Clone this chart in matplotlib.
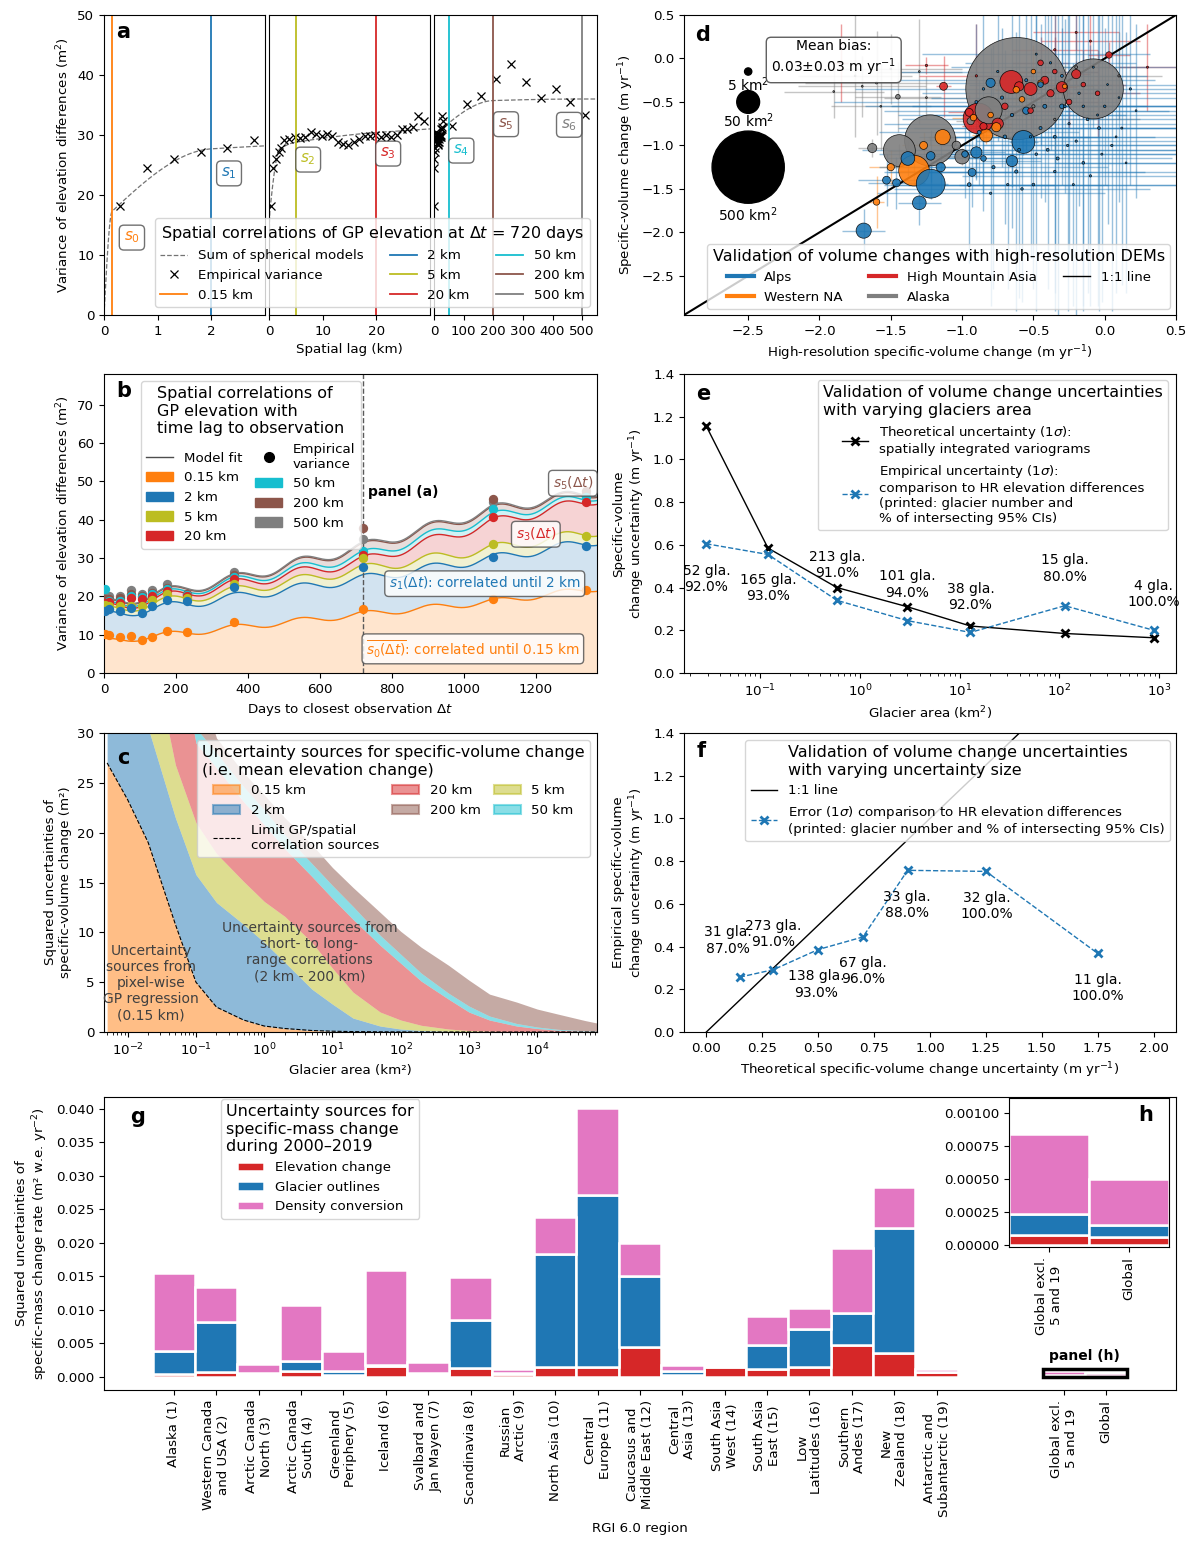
import numpy as np
import matplotlib
matplotlib.use('Agg')
import matplotlib.pyplot as plt
from matplotlib.patches import Patch, Rectangle
from matplotlib.lines import Line2D
from matplotlib.ticker import FormatStrFormatter

plt.rcParams['font.family'] = ['DejaVu Sans']
plt.rcParams['font.size'] = 9.6
plt.rcParams['legend.title_fontsize'] = 11.5
plt.rcParams['mathtext.fontset'] = 'dejavusans'

# ---------------- data ----------------
range_km = [0.15, 2, 5, 20, 50, 200, 500]
range_lbl = ['0.15 km', '2 km', '5 km', '20 km', '50 km', '200 km', '500 km']
range_col = ['tab:orange', 'tab:blue', 'tab:olive', 'tab:red', 'tab:cyan', 'tab:brown', 'tab:gray']

# panel a: partial sills of the fitted spherical models and empirical variogram
sill_a = [16.0, 10.5, 1.6, 1.0, 0.8, 5.5, 0.6]
lag_km = [0.3, 0.8, 1.3, 1.8, 2.3, 2.8, 3.8, 4.8, 5.8, 6.8, 7.8, 8.8, 9.8, 10.8, 11.8,
          12.8, 13.8, 14.8, 15.8, 16.8, 17.8, 18.8, 19.8, 20.8, 21.8, 22.8, 23.8, 24.8,
          25.8, 26.8, 27.8, 28.8, 60, 110, 160, 210, 260, 310, 360, 410, 460, 510]
emp_var_a = [18.1, 24.5, 26.0, 27.2, 27.8, 29.2, 29.4, 29.6, 29.5, 29.6, 30.5, 30.2, 29.9,
             30.2, 29.9, 28.8, 28.5, 28.3, 28.8, 29.4, 29.9, 29.9, 30.0, 29.7, 30.0, 29.7,
             30.0, 31.0, 31.0, 31.3, 33.1, 32.3, 31.5, 35.2, 36.5, 39.3, 41.8, 38.8, 36.2,
             37.6, 35.5, 33.4]

# panel b: model fit (band thickness trend at knots + periodic term) and empirical values
b_knots = [0, 360, 720, 1080, 1370]
b_trend = [[8.2, 11.8, 15.35, 18.6, 22.1],
           [6.75, 7.95, 9.25, 11.3, 12.35],
           [1.2, 1.6, 2.5, 2.6, 2.5],
           [0.6, 1.7, 2.1, 6.7, 8.4],
           [0.4, 0.7, 1.4, 1.5, 1.0],
           [0.6, 0.6, 2.1, 1.7, 0.8],
           [0.2, 0.2, 0.3, 0.3, 0.3]]
b_wave = [0.8, 0.35, 0.1, 0.1, 0.0, 0.0, 0.0]
b_period = 182.5
b_days = [3, 15, 44, 74, 105, 134, 174, 230, 362, 720, 1080, 1340]
b_emp = [[10.1, 10.0, 9.4, 9.6, 8.6, 9.5, 11.0, 10.6, 13.2, 16.8, 19.3, 21.7],
         [16.1, 16.7, 16.3, 16.9, 15.6, 17.6, 19.1, 18.7, 22.4, 27.6, 30.2, 33.1],
         [17.8, 17.6, 17.4, 17.6, 17.4, 19.0, 20.7, 19.6, 23.3, 30.1, 33.6, 35.7],
         [18.3, 18.4, 18.2, 19.6, 19.3, 20.0, 21.5, 20.2, 24.5, 30.9, 40.6, 44.7],
         [21.8, 18.9, 18.8, 20.2, 19.9, 20.5, 22.0, 20.4, 25.0, 31.8, 42.7, 45.8],
         [19.3, 19.3, 19.5, 20.7, 20.2, 20.8, 22.3, 20.6, 25.6, 37.9, 45.5, 47.5],
         [20.0, 20.2, 20.1, 21.6, 20.7, 21.6, 23.3, 20.7, 26.3, 34.9, 44.7, 46.8]]

# panel c: cumulative squared uncertainties vs glacier area
c_area = [0.005, 0.01, 0.02, 0.05, 0.1, 0.2, 0.5, 1, 2, 5, 10, 20, 50, 100, 200, 500,
          1e3, 2e3, 5e3, 1e4, 2e4, 5e4, 7.5e4]
c_top = [[27.0, 23.3, 19.0, 10.8, 5.0, 2.5, 1.2, 0.6, 0.35, 0.15, 0.08, 0.04, 0.02, 0.01,
          0.005, 0.002, 0.001, 0, 0, 0, 0, 0, 0],
         [45, 37, 30.5, 21.5, 15.8, 13.0, 10.8, 9.0, 7.0, 4.3, 2.8, 1.4, 0.6, 0.3, 0.15,
          0.07, 0.04, 0.02, 0.01, 0.005, 0.003, 0.001, 0.001],
         [60, 50, 40, 26.8, 21.0, 17.9, 15.1, 13.1, 11.6, 9.0, 6.4, 4.0, 2.0, 1.2, 0.67,
          0.3, 0.15, 0.08, 0.04, 0.02, 0.01, 0.005, 0.004],
         [100, 80, 60, 40, 29.0, 26.5, 23.1, 20.8, 18.4, 15.6, 13.4, 11.3, 8.7, 6.9, 5.1,
          3.3, 2.0, 1.2, 0.6, 0.35, 0.18, 0.07, 0.05],
         [102, 82, 62, 42, 30.5, 28.0, 24.6, 22.3, 19.8, 16.9, 14.7, 12.6, 9.7, 7.8, 5.9,
          3.9, 2.6, 1.6, 0.85, 0.5, 0.27, 0.12, 0.08],
         [110, 85, 68, 50, 36, 29.5, 26.0, 23.8, 21.5, 18.8, 16.5, 14.5, 12.0, 10.1, 8.5,
          6.7, 5.2, 3.8, 3.0, 2.3, 1.8, 1.15, 0.9]]
c_lbl = ['0.15 km', '2 km', '5 km', '20 km', '50 km', '200 km']

# panel d: validation points per region (x, y, area km2, xerr, yerr)
alps_x = [-1.22, -0.57, -1.69, -1.30, -1.38, -0.65, -0.90, -0.93, -1.15, -1.22, -1.53, -1.46,
          -0.80, -0.55, -0.98, -0.85, -0.45, -0.30,
          -0.62, -0.48, -0.35, -0.25, -0.15, -0.05, 0.05, 0.10, -0.70, -0.78, -0.42, -0.30,
          -0.18, -0.08, 0.02, -0.55, -0.88, -0.95, -0.50, -0.35, -0.20, 0.12, -0.65, -0.45,
          -0.10, -0.28, 0.00, -0.60, -0.72, -0.38,
          -0.85, -0.75, -0.40, -0.22, -0.12, 0.08, 0.18, -0.58, -0.33, -0.02, -0.68, -0.48,
          -0.15, 0.15, -0.90, -0.26, -0.04, -0.52, 0.22, -0.80]
alps_y = [-1.44, -0.96, -1.98, -1.66, -1.15, -1.18, -1.08, -1.31, -1.25, -1.12, -1.40, -1.43,
          -0.28, -0.60, -1.10, -1.15, -0.30, -0.55,
          -1.30, -1.10, -0.90, -0.75, -1.20, -0.65, -1.00, -0.45, -0.90, -1.25, -0.55, -0.20,
          -0.40, -0.10, -0.30, -0.25, -0.85, -1.45, -1.45, -1.30, -0.95, -0.80, -0.65, -0.80,
          -1.35, -0.55, -0.55, -1.05, -0.45, -0.05,
          -0.35, -0.15, -1.05, -1.45, -0.70, -0.90, -0.35, -1.50, -1.15, -1.10, -1.45, 0.05,
          -0.55, -1.20, -0.50, -1.00, -0.80, -0.90, -0.60, -1.55]
alps_area = [80, 50, 22, 18, 18, 12, 12, 6, 8, 7, 6, 6, 8, 5, 4, 3, 3, 2,
             1.0, 0.6, 0.8, 0.5, 0.7, 0.4, 0.5, 0.3, 1.2, 1.0, 1.5, 0.8, 0.6, 0.4, 0.3, 0.9,
             1.5, 1.3, 0.7, 0.6, 0.5, 0.4, 1.1, 0.9, 0.5, 0.7, 0.6, 0.8, 1.0, 0.5,
             0.6, 0.5, 0.8, 0.4, 0.7, 0.3, 0.5, 0.6, 0.9, 0.4, 0.5, 0.4, 0.6, 0.3, 0.8, 0.5,
             0.7, 0.6, 0.3, 0.5]
alps_xerr = [0.12, 0.10, 0.15, 0.15, 0.15, 0.2, 0.2, 0.3, 0.2, 0.2, 0.2, 0.2, 0.3, 1.0, 0.4,
             0.4, 0.5, 0.6,
             0.9, 1.1, 0.7, 1.3, 0.8, 1.2, 0.9, 1.0, 0.6, 0.8, 0.5, 0.6, 1.1, 1.0, 0.7, 0.9,
             0.7, 0.6, 1.0, 1.2, 0.7, 0.6, 0.8, 1.0, 0.9, 1.4, 1.5, 1.1, 0.5, 0.6,
             0.9, 0.7, 1.0, 0.8, 1.3, 0.6, 0.4, 0.9, 0.8, 1.1, 0.7, 0.8, 1.2, 0.5, 1.0, 0.9,
             1.3, 0.6, 0.5, 0.8]
alps_yerr = [0.18, 0.15, 0.25, 0.25, 0.2, 0.3, 0.3, 0.4, 0.3, 0.3, 0.3, 0.3, 0.4, 0.5, 0.5,
             0.6, 0.7, 0.9,
             1.6, 1.8, 2.0, 1.5, 1.7, 2.2, 1.9, 1.2, 1.0, 1.4, 1.1, 0.9, 1.3, 0.7, 1.6, 0.8,
             0.6, 0.9, 1.2, 1.4, 2.1, 1.8, 1.3, 0.8, 1.5, 1.0, 0.9, 1.7, 0.8, 1.0,
             1.2, 0.8, 1.6, 1.4, 2.0, 1.8, 1.1, 1.3, 1.9, 1.7, 1.2, 0.6, 2.3, 1.5, 0.9, 1.9,
             2.1, 1.4, 1.0, 1.3]

hma_x = [-0.885, -0.655, -0.52, -0.30, -0.20, -1.13, 0.03, -0.75, -0.42, -0.60, -0.45, -0.38,
         -0.25, -0.95, -0.70, -0.15, -0.05, -0.35, -0.85, -0.52, -1.85, -1.25, -0.35, -0.10, 0.30,
         -0.90, -0.20]
hma_y = [-0.69, -0.27, -0.35, -0.33, -0.18, -0.32, 0.04, -0.75, -0.25, -0.32, -0.05, -0.40,
         -0.50, -0.62, -0.55, -0.30, -0.40, -0.15, -0.78, -0.60, -0.05, -0.08, 0.10, 0.20, -0.10,
         -0.20, 0.30]
hma_area = [90, 50, 16, 12, 8, 6, 4, 12, 6, 8, 3, 5, 3, 6, 4, 2, 2, 2, 5, 3, 0.5, 0.5, 0.5,
            0.4, 0.4, 0.5, 0.4]
hma_xerr = [0.08, 0.08, 0.1, 0.1, 0.1, 0.05, 0.15, 0.1, 0.15, 0.1, 0.2, 0.15, 0.2, 0.15, 0.2,
            0.3, 0.3, 0.3, 0.15, 0.2, 0.05, 0.15, 0.3, 0.35, 0.2, 0.4, 0.3]
hma_yerr = [0.1, 0.1, 0.1, 0.1, 0.15, 0.35, 0.15, 0.1, 0.2, 0.1, 0.3, 0.2, 0.3, 0.2, 0.2,
            0.4, 0.5, 0.4, 0.15, 0.3, 0.45, 0.1, 0.4, 0.3, 0.5, 0.6, 0.2]

wna_x = [-1.337, -1.136, -0.832, -1.27, -1.50, -1.60, -0.76, -0.62, -0.58, -0.92, -0.80, -0.45, -0.28, -0.50]
wna_y = [-1.29, -0.904, -0.885, -1.00, -1.25, -1.65, -0.79, -0.36, -0.47, -0.68, -0.65, -0.28, -0.32, -0.15]
wna_area = [90, 22, 16, 6, 5, 4, 8, 4, 3, 4, 3, 3, 2, 2]
wna_xerr = [0.1, 0.1, 0.1, 0.15, 0.15, 0.05, 0.1, 0.15, 0.15, 0.15, 0.2, 0.2, 0.2, 0.2]
wna_yerr = [0.15, 0.1, 0.1, 0.15, 0.2, 0.3, 0.1, 0.2, 0.2, 0.15, 0.2, 0.25, 0.25, 0.3]

ak_x = [-0.616, -0.08, -1.224, -1.44, -0.814, -1.00, -1.63, -1.04, -0.94, -1.45, -1.60, -1.57,
        -1.75, -1.30, -1.90, -0.35, -0.20, 0.10, -0.50, -1.70, -1.25, -1.50]
ak_y = [-0.346, -0.35, -0.942, -1.06, -0.596, -1.13, -1.03, -1.00, -0.72, -0.44, -0.28, -0.55,
        -0.20, -0.15, -0.38, -0.70, -0.10, -0.20, -0.55, -0.32, -0.45, -0.12]
ak_area = [1000, 346, 250, 98, 70, 20, 8, 7, 5, 2, 0.5, 0.3, 0.3, 0.3, 0.3, 0.5, 0.8, 0.5, 1.0,
           0.3, 0.3, 0.3]
ak_xerr = [0.05, 0.05, 0.05, 0.08, 0.08, 0.1, 0.1, 0.1, 0.1, 0.3, 0.5, 0.35, 0.4, 0.3, 0.35,
           0.6, 0.5, 0.3, 0.4, 0.45, 0.3, 0.5]
ak_yerr = [0.05, 0.05, 0.05, 0.08, 0.08, 0.1, 0.1, 0.1, 0.1, 0.4, 0.6, 0.5, 0.7, 0.6, 0.3,
           0.5, 0.4, 0.5, 0.4, 0.35, 0.25, 0.4]

size_ref_area = [5, 50, 500]
size_ref_y = [-0.15, -0.5, -1.25]
size_lbl_y = [-0.30, -0.72, -1.80]

# panel e
e_area = [0.029, 0.12, 0.59, 3.0, 12.8, 113, 880]
e_theo = [1.155, 0.585, 0.40, 0.31, 0.22, 0.185, 0.165]
e_emp = [0.605, 0.555, 0.34, 0.245, 0.19, 0.315, 0.20]
e_ngla = [52, 165, 213, 101, 38, 15, 4]
e_pct = [92.0, 93.0, 91.0, 94.0, 92.0, 80.0, 100.0]
e_lab_y = [0.442, 0.398, 0.507, 0.414, 0.357, 0.489, 0.370]

# panel f
f_theo = [0.15, 0.30, 0.50, 0.70, 0.90, 1.25, 1.75]
f_emp = [0.257, 0.292, 0.386, 0.445, 0.757, 0.752, 0.368]
f_ngla = [31, 273, 138, 67, 33, 32, 11]
f_pct = [87.0, 91.0, 93.0, 96.0, 88.0, 100.0, 100.0]
f_lab_x = [0.096, 0.299, 0.49, 0.70, 0.897, 1.252, 1.752]
f_lab_y = [0.428, 0.459, 0.222, 0.284, 0.593, 0.59, 0.206]

# panel g / h
g_labels = ['Alaska (1)', 'Western Canada\nand USA (2)', 'Arctic Canada\nNorth (3)',
            'Arctic Canada\nSouth (4)', 'Greenland\nPeriphery (5)', 'Iceland (6)',
            'Svalbard and\nJan Mayen (7)', 'Scandinavia (8)', 'Russian\nArctic (9)',
            'North Asia (10)', 'Central\nEurope (11)', 'Caucasus and\nMiddle East (12)',
            'Central\nAsia (13)', 'South Asia\nWest (14)', 'South Asia\nEast (15)',
            'Low\nLatitudes (16)', 'Southern\nAndes (17)', 'New\nZealand (18)',
            'Antarctic and\nSubantarctic (19)', 'Global excl.\n5 and 19', 'Global']
g_elev = [0.0004, 0.0007, 0.0002, 0.0009, 0.0002, 0.0016, 0.0003, 0.0013, 0.0004, 0.0014,
          0.0015, 0.0045, 0.0002, 0.0015, 0.0012, 0.0015, 0.0047, 0.0036, 0.0007,
          0.000075, 0.000062]
g_outline = [0.0034, 0.0074, 0.0004, 0.0014, 0.0006, 0.0001, 0.0003, 0.0072, 0.0001, 0.0170,
             0.0257, 0.0105, 0.0006, 0.00003, 0.0035, 0.0056, 0.0048, 0.0186, 0.00005,
             0.000161, 0.000092]
g_density = [0.0117, 0.0053, 0.0013, 0.0084, 0.0031, 0.0143, 0.0016, 0.0064, 0.0006, 0.0054,
             0.0129, 0.0050, 0.0009, 0.00003, 0.0043, 0.0031, 0.0098, 0.0061, 0.0004,
             0.000604, 0.000348]


def spherical(h, r, c):
    h = np.asarray(h, dtype=float)
    return np.where(h < r, c * (1.5 * h / r - 0.5 * (h / r) ** 3), c)


# ---------------- figure ----------------
W, H = 1192, 1543
fig = plt.figure(figsize=(W / 100, H / 100), dpi=100)


def px_axes(l, t, r, b):
    return fig.add_axes([l / W, 1 - b / H, (r - l) / W, (b - t) / H])


def letter(ax, x, y, s):
    ax.text(x, y, s, transform=ax.transAxes, fontsize=15, fontweight='bold',
            ha='center', va='center', zorder=30)


box_kw = dict(boxstyle='round,pad=0.3', fc='white', ec='0.3', alpha=0.8)

# ---- a ----
ax_a = [px_axes(104, 15, 265, 315), px_axes(269, 15, 430, 315), px_axes(434, 15, 597, 315)]
a_xlims = [(0, 3), (0, 30), (0, 550)]
a_lines = [[0, 1], [2, 3], [4, 5, 6]]
a_xticks = [[0, 1, 2], [0, 10, 20], [0, 100, 200, 300, 400, 500]]
for i, ax in enumerate(ax_a):
    h = np.linspace(0, a_xlims[i][1], 1500)
    model = sum(spherical(h, r, c) for r, c in zip(range_km, sill_a))
    ax.plot(h, model, ls='--', color='0.45', lw=0.9)
    ax.plot(lag_km, emp_var_a, 'x', color='k', ms=6, mew=0.9)
    for j in a_lines[i]:
        ax.axvline(range_km[j], color=range_col[j], lw=1.3)
    ax.set_xlim(a_xlims[i])
    ax.set_ylim(0, 50)
    ax.set_xticks(a_xticks[i])
    if i > 0:
        ax.tick_params(left=False, labelleft=False)
ax_a[0].set_ylabel('Variance of elevation differences (m$^2$)')
ax_a[1].set_xlabel('Spatial lag (km)')
letter(ax_a[0], 0.118, 0.943, 'a')
s_pos = [(0, 0.52, 12.9), (0, 2.33, 23.6), (1, 7.3, 25.9), (1, 22.2, 26.9),
         (2, 92, 27.4), (2, 243, 31.8), (2, 456, 31.7)]
for k, (i, x, y) in enumerate(s_pos):
    ax_a[i].text(x, y, '$s_%d$' % k, color=range_col[k], fontsize=11, ha='center',
                 va='center', bbox=box_kw)
a_handles = [Line2D([], [], ls='--', color='0.45', lw=0.9),
             Line2D([], [], ls='none', marker='x', color='k', ms=6, mew=0.9)]
a_handles += [Line2D([], [], color=c, lw=1.3) for c in range_col]
fig.legend(a_handles, ['Sum of spherical models', 'Empirical variance'] + range_lbl, ncol=3,
           loc='lower right', bbox_to_anchor=(590 / W, 1 - 307 / H), borderaxespad=0,
           title=r'Spatial correlations of GP elevation at $\Delta t$ = 720 days')

# ---- b ----
ax_b = px_axes(104, 374, 597, 673)
t = np.linspace(0, 1370, 1000)
comps = [np.interp(t, b_knots, b_trend[j]) + b_wave[j] * np.cos(2 * np.pi * t / b_period)
         for j in range(7)]
cum = np.cumsum(comps, axis=0)
lower = np.zeros_like(t)
for j in range(7):
    ax_b.fill_between(t, lower, cum[j], color=range_col[j], alpha=0.2, lw=0)
    ax_b.plot(t, cum[j], color=range_col[j], lw=1)
    lower = cum[j]
for j in range(6, -1, -1):
    ax_b.scatter(b_days, b_emp[j], color=range_col[j], s=45, zorder=5, lw=0)
ax_b.axvline(720, ls='--', color='0.35', lw=1)
ax_b.text(832, 47.2, 'panel (a)', fontweight='bold', ha='center', va='center', fontsize=10)
ax_b.text(1303, 49.5, r'$s_5(\Delta t)$', color='tab:brown', fontsize=10, ha='center',
          va='center', bbox=box_kw, zorder=8)
ax_b.text(1200, 36.2, r'$s_3(\Delta t)$', color='tab:red', fontsize=10, ha='center',
          va='center', bbox=box_kw, zorder=8)
ax_b.text(1058, 23.3, r'$s_1(\Delta t)$: correlated until 2 km', color='tab:blue',
          fontsize=9.8, ha='center', va='center', bbox=box_kw, zorder=8)
ax_b.text(1025, 6.3, r'$\overline{s_0(\Delta t)}$: correlated until 0.15 km',
          color='tab:orange', fontsize=9.8, ha='center', va='center', bbox=box_kw, zorder=8)
ax_b.set_xlim(0, 1370)
ax_b.set_ylim(0, 78)
ax_b.set_xlabel(r'Days to closest observation $\Delta t$')
ax_b.set_ylabel('Variance of elevation differences (m$^2$)')
letter(ax_b, 0.0406, 0.943, 'b')
b_handles = [Line2D([], [], color='0.3', lw=1)] + [Patch(color=range_col[j]) for j in range(4)]
b_handles += [Line2D([], [], ls='none', marker='o', color='k', ms=7)]
b_handles += [Patch(color=range_col[j]) for j in range(4, 7)]
b_labels = ['Model fit'] + range_lbl[:4] + ['Empirical\nvariance'] + range_lbl[4:]
leg_b = ax_b.legend(b_handles, b_labels, ncol=2, loc='upper left', bbox_to_anchor=(0.075, 0.977),
                    borderaxespad=0, columnspacing=1.0,
                    title='Spatial correlations of\nGP elevation with\ntime lag to observation')
leg_b.get_title().set_multialignment('left')
leg_b.set_zorder(20)

# ---- c ----
ax_c = px_axes(104, 733, 597, 1032)
lower = np.zeros(len(c_area))
for j in range(6):
    ax_c.fill_between(c_area, lower, c_top[j], color=range_col[j], alpha=0.5, lw=0)
    lower = np.array(c_top[j])
ax_c.plot(c_area, c_top[0], ls='--', color='k', lw=0.8)
ax_c.set_xscale('log')
ax_c.set_xlim(0.0045, 75000)
ax_c.set_ylim(0, 30)
ax_c.text(0.022, 4.9, 'Uncertainty\nsources from\npixel-wise\nGP regression\n(0.15 km)',
          ha='center', va='center', color='0.25', fontsize=10)
ax_c.text(4.6, 8.0, 'Uncertainty sources from\nshort- to long-\nrange correlations\n(2 km - 200 km)',
          ha='center', va='center', color='0.25', fontsize=10)
ax_c.set_xlabel('Glacier area (km²)')
ax_c.set_ylabel('Squared uncertainties of\nspecific-volume change (m²)')
letter(ax_c, 0.0385, 0.916, 'c')
cp = [Patch(facecolor=range_col[j], edgecolor=range_col[j], alpha=0.5, lw=1.5) for j in range(6)]
c_handles = [cp[0], cp[1], Line2D([], [], ls='--', color='k', lw=0.8), cp[3], cp[5], cp[2], cp[4]]
c_labels = [c_lbl[0], c_lbl[1], 'Limit GP/spatial\ncorrelation sources', c_lbl[3], c_lbl[5],
            c_lbl[2], c_lbl[4]]
leg_c = ax_c.legend(c_handles, c_labels, ncol=3, loc='upper right', bbox_to_anchor=(0.986, 0.977),
                    borderaxespad=0, columnspacing=1.0,
                    title='Uncertainty sources for specific-volume change\n(i.e. mean elevation change)')
leg_c.get_title().set_multialignment('left')

# ---- d ----
ax_d = px_axes(684, 15, 1176, 315)
regions = [(ak_x, ak_y, ak_area, ak_xerr, ak_yerr, 'tab:gray'),
           (hma_x, hma_y, hma_area, hma_xerr, hma_yerr, 'tab:red'),
           (wna_x, wna_y, wna_area, wna_xerr, wna_yerr, 'tab:orange'),
           (alps_x, alps_y, alps_area, alps_xerr, alps_yerr, 'tab:blue')]
all_x, all_y, all_a, all_c = [], [], [], []
for x, y, a, xe, ye, col in regions:
    ax_d.errorbar(x, y, xerr=xe, yerr=ye, fmt='none', ecolor=col, elinewidth=1, alpha=0.45,
                  zorder=1)
    all_x += x
    all_y += y
    all_a += a
    all_c += [col] * len(x)
order = np.argsort(all_a)[::-1]
ax_d.plot([-2.95, 0.5], [-2.95, 0.5], color='k', lw=1.5, zorder=2)
ax_d.scatter(np.array(all_x)[order], np.array(all_y)[order], s=5.4 * np.array(all_a)[order],
             c=np.array(all_c)[order], edgecolors='k', linewidths=0.5, alpha=0.9, zorder=3)
ax_d.scatter([-2.5] * 3, size_ref_y, s=5.4 * np.array(size_ref_area), color='k', zorder=4)
for a, y in zip(size_ref_area, size_lbl_y):
    ax_d.text(-2.5, y, '%d km$^2$' % a, ha='center', va='center', fontsize=10)
ax_d.text(-1.9, 0.0, 'Mean bias:\n0.03±0.03 m yr$^{-1}$', ha='center', va='center',
          fontsize=10, bbox=dict(boxstyle='round,pad=0.35', fc='white', ec='0.3', alpha=0.9))
ax_d.set_xlim(-2.95, 0.5)
ax_d.set_ylim(-2.95, 0.5)
ax_d.set_xticks([-2.5, -2.0, -1.5, -1.0, -0.5, 0.0, 0.5])
ax_d.set_yticks([0.5, 0.0, -0.5, -1.0, -1.5, -2.0, -2.5])
ax_d.set_xlabel('High-resolution specific-volume change (m yr$^{-1}$)')
ax_d.set_ylabel('Specific-volume change (m yr$^{-1}$)')
letter(ax_d, 0.0386, 0.933, 'd')
d_handles = [Line2D([], [], color='tab:blue', lw=3), Line2D([], [], color='tab:orange', lw=3),
             Line2D([], [], color='tab:red', lw=3), Line2D([], [], color='tab:gray', lw=3),
             Line2D([], [], color='k', lw=1)]
leg_d = ax_d.legend(d_handles, ['Alps', 'Western NA', 'High Mountain Asia', 'Alaska', '1:1 line'],
                    ncol=3, loc='lower right', bbox_to_anchor=(0.988, 0.02), borderaxespad=0,
                    title='Validation of volume changes with high-resolution DEMs')
leg_d.set_zorder(20)

# ---- e ----
ax_e = px_axes(684, 374, 1176, 673)
ax_e.plot(e_area, e_theo, '-x', color='k', lw=1, ms=6, mew=2,
          label='Theoretical uncertainty (1$\\sigma$):\nspatially integrated variograms')
ax_e.plot(e_area, e_emp, '--x', color='tab:blue', lw=1, ms=6, mew=2,
          label='Empirical uncertainty (1$\\sigma$):\ncomparison to HR elevation differences\n'
                '(printed: glacier number and\n% of intersecting 95% CIs)')
for x, y, n, p in zip(e_area, e_lab_y, e_ngla, e_pct):
    ax_e.text(x, y, '%d gla.\n%.1f%%' % (n, p), ha='center', va='center', fontsize=10)
ax_e.set_xscale('log')
ax_e.set_xlim(0.0173, 1470)
ax_e.set_ylim(0, 1.4)
ax_e.set_xlabel('Glacier area (km$^2$)')
ax_e.set_ylabel('Specific-volume\nchange uncertainty (m yr$^{-1}$)')
letter(ax_e, 0.0386, 0.933, 'e')
leg_e = ax_e.legend(loc='upper right', bbox_to_anchor=(0.984, 0.98), borderaxespad=0,
                    title='Validation of volume change uncertainties\nwith varying glaciers area')
leg_e.get_title().set_multialignment('left')

# ---- f ----
ax_f = px_axes(684, 733, 1176, 1032)
ax_f.plot([0, 2], [0, 2], color='k', lw=1, label='1:1 line')
ax_f.plot(f_theo, f_emp, '--x', color='tab:blue', lw=1, ms=6, mew=2,
          label='Error (1$\\sigma$) comparison to HR elevation differences\n'
                '(printed: glacier number and % of intersecting 95% CIs)')
for x, y, n, p in zip(f_lab_x, f_lab_y, f_ngla, f_pct):
    ax_f.text(x, y, '%d gla.\n%.1f%%' % (n, p), ha='center', va='center', fontsize=10)
ax_f.set_xlim(-0.1, 2.1)
ax_f.set_ylim(0, 1.4)
ax_f.set_xticks(np.arange(0, 2.01, 0.25))
ax_f.xaxis.set_major_formatter(FormatStrFormatter('%.2f'))
ax_f.set_xlabel('Theoretical specific-volume change uncertainty (m yr$^{-1}$)')
ax_f.set_ylabel('Empirical specific-volume\nchange uncertainty (m yr$^{-1}$)')
letter(ax_f, 0.0346, 0.94, 'f')
leg_f = ax_f.legend(loc='upper right', bbox_to_anchor=(0.988, 0.977), borderaxespad=0,
                    title='Validation of volume change uncertainties\nwith varying uncertainty size')
leg_f.get_title().set_multialignment('left')

# ---- g ----
ax_g = px_axes(104, 1097, 1176, 1390)
g_pos = list(range(1, 20)) + [22, 23]
g_bot2 = np.add(g_elev, g_outline)
bar_kw = dict(width=1, edgecolor='white', linewidth=1.8)
ax_g.bar(g_pos, g_elev, color='tab:red', label='Elevation change', **bar_kw)
ax_g.bar(g_pos, g_outline, bottom=g_elev, color='tab:blue', label='Glacier outlines', **bar_kw)
ax_g.bar(g_pos, g_density, bottom=g_bot2, color='tab:pink', label='Density conversion', **bar_kw)
ax_g.add_patch(Rectangle((21.5, -0.0001), 2.0, 0.0013, fill=False, ec='k', lw=2.5, zorder=5))
ax_g.text(22.5, 0.0031, 'panel (h)', fontweight='bold', ha='center', va='center', fontsize=10)
ax_g.set_xlim(-0.65, 24.65)
ax_g.set_ylim(-0.002, 0.0418)
ax_g.set_yticks(np.arange(0, 0.0401, 0.005))
ax_g.yaxis.set_major_formatter(FormatStrFormatter('%.3f'))
ax_g.set_xticks(g_pos)
ax_g.set_xticklabels(g_labels, rotation=90)
ax_g.set_xlabel('RGI 6.0 region')
ax_g.set_ylabel('Squared uncertainties of\nspecific-mass change rate (m² w.e. yr$^{-2}$)')
letter(ax_g, 0.0317, 0.932, 'g')
leg_g = ax_g.legend(loc='upper left', bbox_to_anchor=(0.109, 0.993), borderaxespad=0,
                    title='Uncertainty sources for\nspecific-mass change\nduring 2000–2019')
leg_g.get_title().set_multialignment('left')

# ---- h ----
ax_h = px_axes(1009, 1098, 1169, 1247)
h_pos = [0, 1]
ax_h.bar(h_pos, g_elev[19:], color='tab:red', **bar_kw)
ax_h.bar(h_pos, g_outline[19:], bottom=g_elev[19:], color='tab:blue', **bar_kw)
ax_h.bar(h_pos, g_density[19:], bottom=g_bot2[19:], color='tab:pink', **bar_kw)
ax_h.set_xlim(-0.5, 1.5)
ax_h.set_ylim(-0.0000125, 0.00111)
ax_h.set_yticks([0, 0.00025, 0.0005, 0.00075, 0.001])
ax_h.yaxis.set_major_formatter(FormatStrFormatter('%.5f'))
ax_h.set_xticks(h_pos)
ax_h.set_xticklabels(g_labels[19:], rotation=90)
letter(ax_h, 0.856, 0.886, 'h')

fig.savefig('out.png', dpi=100)
